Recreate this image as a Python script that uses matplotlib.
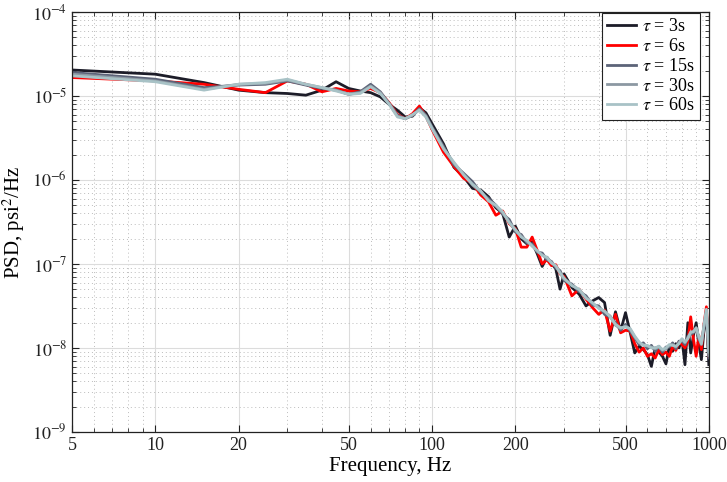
import numpy as np
import matplotlib
matplotlib.use("Agg")
import matplotlib.pyplot as plt
from matplotlib.ticker import FixedLocator, FixedFormatter, NullFormatter

plt.rcParams['font.family'] = ['Liberation Serif', 'DejaVu Serif']
plt.rcParams['mathtext.fontset'] = 'stix'

# frequency grid, Hz
freq = np.concatenate([np.arange(5, 101, 5), np.arange(110, 301, 10), np.arange(320, 1001, 20)])

# log10(PSD)
tau3 = [-4.69, -4.74, -4.84, -4.93, -4.96, -4.97, -4.99, -4.93, -4.83, -4.91,
        -4.94, -4.96, -5.01, -5.10, -5.17, -5.25, -5.24, -5.14, -5.20, -5.33,
        -5.57, -5.85, -5.96, -6.10, -6.12, -6.20, -6.33, -6.40, -6.68, -6.55,
        -6.70, -6.76, -6.74, -6.88, -7.03, -6.92, -6.99, -7.06, -7.30, -7.12,
        -7.28, -7.36, -7.50, -7.44, -7.40, -7.46, -7.85, -7.57, -7.80, -7.58,
        -7.82, -8.06, -7.98, -8.02, -8.08, -8.22, -8.00, -8.05, -8.10, -8.19,
        -7.98, -8.04, -7.95, -8.00, -7.90, -8.20, -7.70, -8.06, -7.85, -7.70,
        -7.95, -8.14, -7.80, -7.56, -8.20]
tau6 = [-4.78, -4.82, -4.86, -4.92, -4.96, -4.82, -4.86, -4.95, -4.91, -4.94,
        -4.95, -4.91, -4.96, -5.08, -5.22, -5.27, -5.21, -5.12, -5.24, -5.40,
        -5.67, -5.84, -5.98, -6.04, -6.18, -6.26, -6.42, -6.37, -6.52, -6.58,
        -6.80, -6.80, -6.68, -6.84, -7.00, -6.95, -7.02, -7.01, -7.12, -7.15,
        -7.38, -7.30, -7.42, -7.52, -7.60, -7.55, -7.80, -7.60, -7.82, -7.79,
        -7.80, -7.95, -8.05, -8.00, -8.10, -8.07, -8.12, -8.02, -8.08, -8.05,
        -8.10, -7.98, -8.03, -7.93, -7.96, -8.00, -7.92, -7.63, -7.90, -8.10,
        -7.85, -8.02, -7.72, -7.51, -8.10]
tau15 = [-4.72, -4.80, -4.90, -4.87, -4.86, -4.82, -4.87, -4.91, -4.93, -4.98,
         -4.95, -4.86, -4.95, -5.09, -5.23, -5.27, -5.23, -5.15, -5.23, -5.37,
         -5.60, -5.82, -5.92, -6.02, -6.15, -6.22, -6.30, -6.41, -6.47, -6.62,
         -6.65, -6.75, -6.76, -6.86, -6.87, -6.95, -6.97, -7.05, -7.08, -7.20,
         -7.24, -7.33, -7.38, -7.49, -7.50, -7.60, -7.63, -7.70, -7.79, -7.72,
         -7.80, -7.88, -7.96, -7.94, -8.01, -7.97, -8.04, -7.98, -8.05, -7.99,
         -7.99, -7.94, -8.01, -7.92, -7.92, -7.96, -7.86, -7.84, -7.82, -7.76,
         -7.90, -7.94, -7.76, -7.58, -8.12]
tau30 = [-4.74, -4.82, -4.92, -4.86, -4.85, -4.81, -4.86, -4.90, -4.93, -4.98,
         -4.96, -4.88, -4.96, -5.09, -5.24, -5.27, -5.23, -5.16, -5.24, -5.38,
         -5.62, -5.80, -5.93, -6.06, -6.14, -6.24, -6.31, -6.39, -6.50, -6.60,
         -6.67, -6.73, -6.78, -6.85, -6.89, -6.93, -6.98, -7.03, -7.10, -7.18,
         -7.25, -7.31, -7.40, -7.47, -7.52, -7.57, -7.62, -7.73, -7.77, -7.74,
         -7.78, -7.87, -7.94, -7.96, -7.98, -7.99, -8.01, -7.99, -8.03, -8.01,
         -7.97, -7.96, -7.99, -7.94, -7.90, -7.94, -7.88, -7.82, -7.80, -7.77,
         -7.87, -7.96, -7.74, -7.55, -8.09]
tau60 = [-4.76, -4.83, -4.93, -4.86, -4.84, -4.80, -4.86, -4.90, -4.94, -4.98,
         -4.97, -4.89, -4.97, -5.10, -5.25, -5.27, -5.22, -5.17, -5.25, -5.39,
         -5.63, -5.79, -5.94, -6.05, -6.13, -6.25, -6.30, -6.38, -6.51, -6.59,
         -6.68, -6.72, -6.79, -6.84, -6.90, -6.92, -6.99, -7.02, -7.11, -7.17,
         -7.26, -7.30, -7.41, -7.46, -7.53, -7.56, -7.63, -7.72, -7.76, -7.75,
         -7.77, -7.86, -7.93, -7.97, -7.97, -8.00, -8.00, -7.98, -8.02, -8.00,
         -7.96, -7.97, -7.98, -7.95, -7.89, -7.93, -7.89, -7.81, -7.81, -7.76,
         -7.86, -7.95, -7.73, -7.54, -8.05]

labels = [r'$\tau$ = 3s', r'$\tau$ = 6s', r'$\tau$ = 15s', r'$\tau$ = 30s', r'$\tau$ = 60s']
colors = ['#1c1c28', '#ff0000', '#5c6378', '#8c98a2', '#a8c2c6']

xticks = [5, 10, 20, 50, 100, 200, 500, 1000]
minor_x = [6, 7, 8, 9, 30, 40, 60, 70, 80, 90, 300, 400, 600, 700, 800, 900]
decades = [-9, -8, -7, -6, -5, -4]

fig = plt.figure(figsize=(7.27, 4.82), dpi=100)
ax = fig.add_axes([0.099, 0.104, 0.876, 0.871])

for vals, lab, c in zip([tau3, tau6, tau15, tau30, tau60], labels, colors):
    ax.plot(freq, 10 ** np.array(vals), color=c, lw=2.0, label=lab)

ax.set_xscale('log')
ax.set_yscale('log')
ax.set_xlim(5, 1000)
ax.set_ylim(1e-9, 1e-4)

ax.xaxis.set_major_locator(FixedLocator(xticks))
ax.xaxis.set_major_formatter(FixedFormatter([str(t) for t in xticks]))
ax.xaxis.set_minor_locator(FixedLocator(minor_x))
ax.xaxis.set_minor_formatter(NullFormatter())

ax.yaxis.set_major_locator(FixedLocator([10.0 ** d for d in decades]))
ax.yaxis.set_major_formatter(FixedFormatter([r'$10^{%d}$' % d for d in decades]))
minor_y = [m * 10.0 ** d for d in decades[:-1] for m in range(2, 10)]
ax.yaxis.set_minor_locator(FixedLocator(minor_y))
ax.yaxis.set_minor_formatter(NullFormatter())

ax.grid(True, which='major', color='#dcdcdc', lw=0.8, ls='-')
ax.grid(True, which='minor', color='#bcbcbc', lw=0.7, ls=(0, (1, 3)))
ax.set_axisbelow(True)

ax.tick_params(which='both', direction='in', top=True, right=True, labelsize=13, colors='#222222')
ax.tick_params(which='major', length=5, width=0.8)
ax.tick_params(which='minor', length=3, width=0.6)
for s in ax.spines.values():
    s.set_color('#222222')
    s.set_linewidth(0.9)

ax.set_xlabel('Frequency, Hz', fontsize=15, labelpad=2)
ax.set_ylabel(r'PSD, psi$^2$/Hz', fontsize=15)

leg = ax.legend(loc='upper right', bbox_to_anchor=(700 / 727, 1 - 13 / 482),
                bbox_transform=fig.transFigure, borderaxespad=0,
                fontsize=13, fancybox=False, framealpha=1,
                edgecolor='#222222', handlelength=1.6, borderpad=0.3,
                labelspacing=0.15, handletextpad=0.3)
leg.get_frame().set_linewidth(0.8)

fig.savefig('out.png', dpi=100)
